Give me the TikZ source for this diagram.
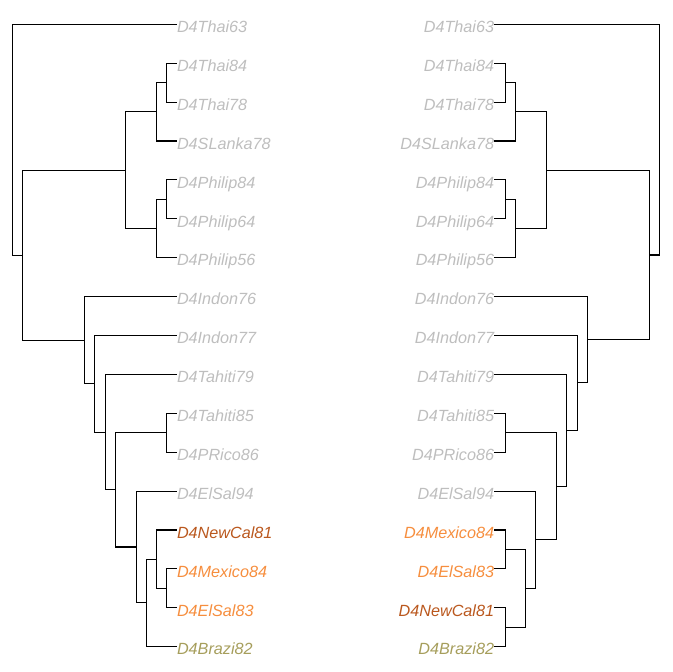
\documentclass[tikz,border=0pt]{standalone}
\usepackage{fontspec}
\setmainfont{Liberation Sans}
\usepackage{tikz}
\usetikzlibrary{calc}
\usetikzlibrary{positioning}

\definecolor{leafgrey}{RGB}{190,190,190}
\definecolor{newcal}{RGB}{186,88,30}
\definecolor{mexorange}{RGB}{246,142,62}
\definecolor{braziolive}{RGB}{166,158,92}

\tikzset{
    leaf/.style={inner sep=0pt, text height=16.5pt, text depth=0pt, font=\fontsize{16.2}{19}\selectfont\itshape},
    branch/.style={draw=black, line width=1.1pt}
}

\begin{document}
\begin{tikzpicture}[x=1pt,y=-1pt]
    \useasboundingbox (0,0) rectangle (672,672);
    % 左边的叶子
    \foreach \n/\c [count=\i from 0] in {Thai63/leafgrey,Thai84/leafgrey,Thai78/leafgrey,SLanka78/leafgrey,Philip84/leafgrey,Philip64/leafgrey,Philip56/leafgrey,Indon76/leafgrey,Indon77/leafgrey,Tahiti79/leafgrey,Tahiti85/leafgrey,PRico86/leafgrey,ElSal94/leafgrey,NewCal81/newcal,Mexico84/mexorange,ElSal83/mexorange,Brazi82/braziolive} {
        \node[leaf,anchor=west,text=\c] (L\n) at (176.8,24.3+38.9*\i) {D4\n};
    }
    % 右边的叶子
    \foreach \n/\c [count=\i from 0] in {Thai63/leafgrey,Thai84/leafgrey,Thai78/leafgrey,SLanka78/leafgrey,Philip84/leafgrey,Philip64/leafgrey,Philip56/leafgrey,Indon76/leafgrey,Indon77/leafgrey,Tahiti79/leafgrey,Tahiti85/leafgrey,PRico86/leafgrey,ElSal94/leafgrey,Mexico84/mexorange,ElSal83/mexorange,NewCal81/newcal,Brazi82/braziolive} {
        \node[leaf,anchor=east,text=\c] (R\n) at (494.3,24.3+38.9*\i) {D4\n};
    }
    % 左边的树
    \foreach \k/\x/\a/\b in {Lth/166.3/LThai84/LThai78, Lthsl/156.3/Lth/LSLanka78, Lph/166.3/LPhilip84/LPhilip64, Lphall/156.3/Lph/LPhilip56, Lasia/125.3/Lthsl/Lphall, Ltp/166.3/LTahiti85/LPRico86, Lmx/166.3/LMexico84/LElSal83, Lnc/156.3/LNewCal81/Lmx, Lbr/146.3/Lnc/LBrazi82, Les/136.3/LElSal94/Lbr, Lam/115.3/Ltp/Les, Lta/105.3/LTahiti79/Lam, Lin7/94.7/LIndon77/Lta, Lin/84.3/LIndon76/Lin7, Lab/22.3/Lasia/Lin, Lroot/12.3/LThai63/Lab} {
        \path ($(\a)!0.5!(\b)$) coordinate (mid);
        \coordinate (\k) at (\x,0 |- mid);
        \draw[branch] (\a) -| (\k) |- (\b);
    }
    % 右边的树
    \foreach \k/\x/\a/\b in {Rth/505.3/RThai84/RThai78, Rthsl/515.3/Rth/RSLanka78, Rph/505.3/RPhilip84/RPhilip64, Rphall/515.3/Rph/RPhilip56, Rasia/546.3/Rthsl/Rphall, Rtp/505.3/RTahiti85/RPRico86, Rmx/505.3/RMexico84/RElSal83, Rnb/505.3/RNewCal81/RBrazi82, Rmb/525.3/Rmx/Rnb, Res/535.7/RElSal94/Rmb, Ram/556.3/Rtp/Res, Rta/566.7/RTahiti79/Ram, Rin7/577.7/RIndon77/Rta, Rin/587.7/RIndon76/Rin7, Rab/649.3/Rasia/Rin, Rroot/659.3/RThai63/Rab} {
        \path ($(\a)!0.5!(\b)$) coordinate (mid);
        \coordinate (\k) at (\x,0 |- mid);
        \draw[branch] (\a) -| (\k) |- (\b);
    }
\end{tikzpicture}
\end{document}
